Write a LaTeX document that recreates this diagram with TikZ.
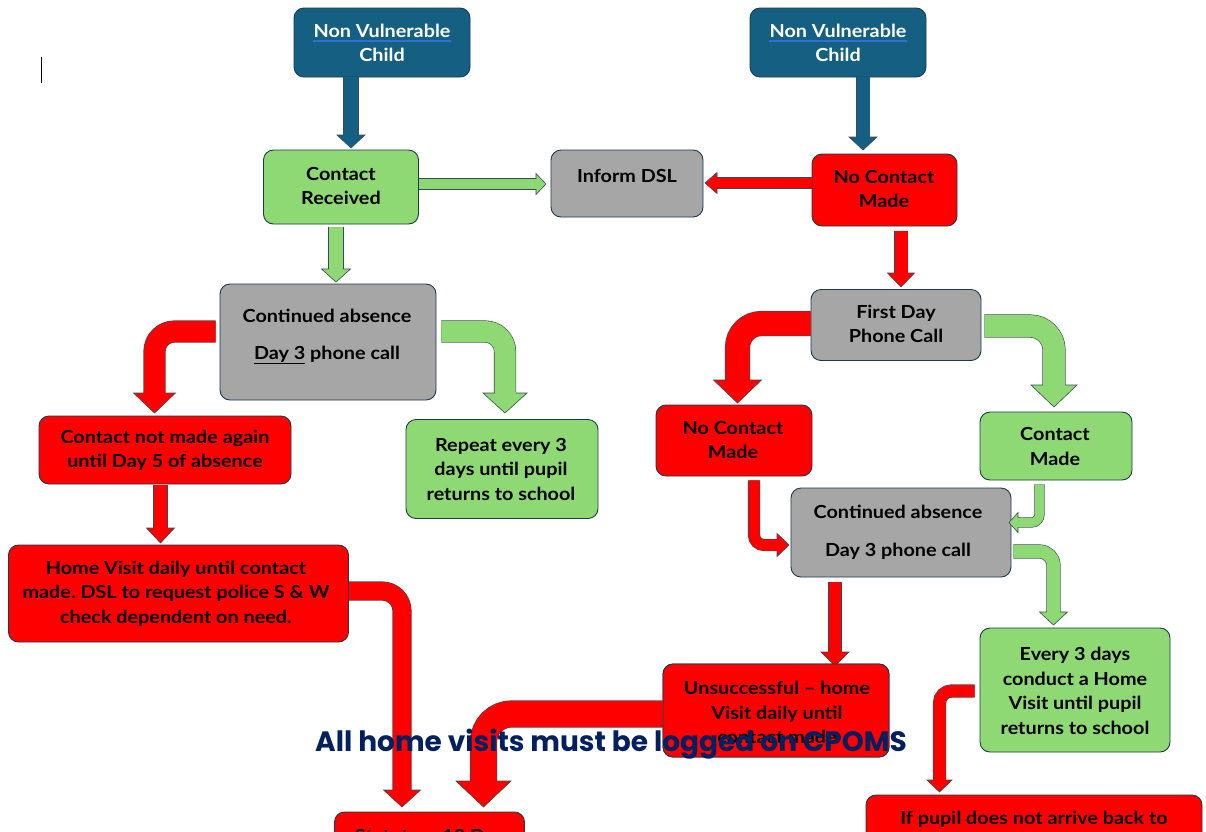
\documentclass[tikz,border=0pt]{standalone}
\usepackage{fontspec}
\setmainfont{Lato}[FakeStretch=1.1]
\newfontfamily\gothic{Poppins}
\usetikzlibrary{calc}
\frenchspacing
\definecolor{nvblue}{HTML}{156082}
\definecolor{gfill}{HTML}{8ED973}
\definecolor{gyfill}{HTML}{A6A6A6}
\definecolor{rfill}{HTML}{FF0000}
\definecolor{bline}{HTML}{1B3A4B}
\definecolor{aline}{HTML}{3A4A55}
\definecolor{navy}{HTML}{002060}
\definecolor{ulblue}{HTML}{2F6FD6}
\tikzset{
 box/.style={draw=bline, line width=0.9pt, rounded corners=10pt, inner sep=0pt},
 txt/.style={font=\bfseries\fontsize{18}{24.5}\selectfont, align=center, inner sep=0pt, text=black},
 wtxt/.style={txt, text=white},
}
\newcommand\band[4]{%
 \pgfmathsetmacro\bwo{#2+1.2}%
 \draw[aline, line width=\bwo pt, rounded corners=#4pt] #3;
 \draw[#1, line width=#2pt, rounded corners=#4pt] #3;}
\newcommand\headD[5]{%
 \filldraw[fill=#1, draw=aline, line width=0.6pt] (#2) -- ++(-#3/2,-#4) -- ++(#3,0) -- cycle;
 \fill[#1] ($(#2)+(-#5/2,-#4-1)$) rectangle ($(#2)+(#5/2,-#4+1)$);}
\newcommand\headR[5]{%
 \filldraw[fill=#1, draw=aline, line width=0.6pt] (#2) -- ++(-#4,-#3/2) -- ++(0,#3) -- cycle;
 \fill[#1] ($(#2)+(-#4-1,-#5/2)$) rectangle ($(#2)+(-#4+1,#5/2)$);}
\newcommand\headL[5]{%
 \filldraw[fill=#1, draw=aline, line width=0.6pt] (#2) -- ++(#4,-#3/2) -- ++(0,#3) -- cycle;
 \fill[#1] ($(#2)+(#4-1,-#5/2)$) rectangle ($(#2)+(#4+1,#5/2)$);}
\begin{document}
\begin{tikzpicture}[x=1pt,y=-1pt]
\clip (0,0) rectangle (1206,831);
\fill[white] (0,0) rectangle (1206,831);
% boxes
\node[box, fill=nvblue, minimum width=176pt, minimum height=69pt] (nv1) at (382,42.5) {};
\node[box, fill=nvblue, minimum width=176pt, minimum height=69pt] (nv2) at (838,42.5) {};
\node[box, fill=gfill, minimum width=155pt, minimum height=74pt] (cr) at (341,187) {};
\node[box, fill=gyfill, minimum width=152pt, minimum height=67pt] (dsl) at (627,183.5) {};
\node[box, fill=rfill, minimum width=145pt, minimum height=72pt] (ncm1) at (884.5,190) {};
\node[box, fill=gyfill, minimum width=216pt, minimum height=116pt] (ca1) at (328,342) {};
\node[box, fill=gyfill, minimum width=170pt, minimum height=71pt] (fd) at (896,325) {};
\node[box, fill=rfill, minimum width=252pt, minimum height=68pt] (cnm) at (165,450) {};
\node[box, fill=gfill, minimum width=192pt, minimum height=99pt] (rep) at (502,469) {};
\node[box, fill=rfill, minimum width=156pt, minimum height=71pt] (ncm2) at (734,440.5) {};
\node[box, fill=gfill, minimum width=152pt, minimum height=68pt] (cm) at (1056,446) {};
\node[box, fill=gyfill, minimum width=220pt, minimum height=89pt] (ca2) at (901,532.5) {};
\node[box, fill=rfill, minimum width=340pt, minimum height=97pt] (hv) at (178.5,593.5) {};
\node[box, fill=gfill, minimum width=190pt, minimum height=124pt] (ev3) at (1075,690) {};
\node[box, fill=rfill, minimum width=190pt, minimum height=76pt] (stat) at (429.5,850) {};
\node[box, fill=rfill, minimum width=336pt, minimum height=90pt] (ifp) at (1034,840) {};
% arrows
\band{nvblue}{14}{(351,0 |- nv1.south) -- (351,135)}{0}
\headD{nvblue}{351,148}{28}{13}{14}
\band{nvblue}{13}{(863,0 |- nv2.south) -- (863,137)}{0}
\headD{nvblue}{863,150}{28}{13}{13}
\band{gfill}{10}{(cr.east |- 0,184) -- (536,184)}{0}
\headR{gfill}{546,184}{21}{10}{10}
\band{rfill}{10}{(ncm1.west |- 0,183) -- (717,183)}{0}
\headL{rfill}{705,183}{21}{12}{10}
\band{gfill}{14}{($(336,0 |- cr.south)+(0,3)$) -- (336,269)}{0}
\headD{gfill}{336,282}{29}{13}{14}
\band{rfill}{13}{($(901,0 |- ncm1.south)+(0,5)$) -- (901,273)}{0}
\headD{rfill}{901,287}{27}{14}{13}
\band{rfill}{21}{($(ca1.west |- 0,331.5)+(-4,0)$) -- (154.5,331.5) -- (154.5,393)}{20}
\headD{rfill}{154.5,413}{42}{20}{21}
\band{gfill}{21}{($(ca1.east |- 0,331.5)+(5,0)$) -- (505,331.5) -- (505,393)}{20}
\headD{gfill}{505,413}{44}{20}{21}
\band{rfill}{13}{($(160.5,0 |- cnm.south)+(0,1)$) -- (160.5,528)}{0}
\headD{rfill}{160.5,543}{28}{15}{13}
\band{rfill}{18}{(hv.east |- 0,591) -- (402,591) -- (402,790)}{20}
\headD{rfill}{402,807}{37}{17}{18}
\band{rfill}{24}{(fd.west |- 0,323.5) -- (737.5,323.5) -- (737.5,380)}{24}
\headD{rfill}{737.5,403}{48}{23}{24}
\band{gfill}{22}{($(fd.east |- 0,326)+(3,0)$) -- (1054,326) -- (1054,385)}{24}
\headD{gfill}{1054,407}{46}{22}{22}
\band{rfill}{11}{($(754,0 |- ncm2.south)+(0,4)$) -- (754,545) -- (777,545)}{10}
\headR{rfill}{789,545}{23}{12}{11}
\band{gfill}{9}{($(1039.5,0 |- cm.south)+(0,4)$) -- (1039.5,522.5) -- (1018,522.5)}{8}
\headL{gfill}{1009,522.5}{20}{9}{9}
\band{gfill}{13}{($(ca2.east |- 0,551.5)+(2,0)$) -- (1053.5,551.5) -- (1053.5,612)}{14}
\headD{gfill}{1053.5,625}{28}{13}{13}
\band{rfill}{12}{($(835,0 |- ca2.south)+(0,5)$) -- (835,652)}{0}
\headD{rfill}{835,666}{28}{14}{12}
\band{rfill}{12}{($(ev3.west |- 0,691)+(-5,0)$) -- (939.5,691) -- (939.5,780)}{12}
\headD{rfill}{939.5,792}{25}{12}{12}
% unsuccessful box (on top of its own arrow)
\node[box, fill=rfill, minimum width=226pt, minimum height=93pt] (uns) at (776,710.5) {};
\band{rfill}{26}{(uns.west |- 0,714) -- (483.5,714) -- (483.5,781)}{28}
\headD{rfill}{483.5,807}{55}{26}{26}
\node[box, fill=rfill, minimum width=226pt, minimum height=93pt] at (776,710.5) {};
% texts
\node[wtxt] (nv1a) at (382,31) {Non Vulnerable};
\node[wtxt] (nv1b) at (382,55) {Child};
\draw[ulblue, line width=1.3pt] ($(nv1a.base west)+(0,3.5)$) -- ($(nv1a.base east)+(0,3.5)$);
\node[wtxt] (nv2a) at (838,31) {Non Vulnerable};
\node[wtxt] (nv2b) at (838,55) {Child};
\draw[ulblue, line width=1.3pt] ($(nv2a.base west)+(0,3.5)$) -- ($(nv2a.base east)+(0,3.5)$);
\node[txt] at (341,186) {Contact\\Received};
\node[txt] at (627,176) {Inform DSL};
\node[txt] at (884,189) {No Contact\\Made};
\node[txt] at (327,316) {Continued absence};
\node[txt] at (327,355) {\underline{Day 3} phone call};
\node[txt] at (896,324) {First Day\\Phone Call};
\node[txt] at (165,450.5) {Contact not made again\\until Day 5 of absence};
\node[txt] at (501,469) {Repeat every 3\\days until pupil\\returns to school};
\node[txt] at (733,440) {No Contact\\Made};
\node[txt] at (1055,446.5) {Contact\\Made};
\node[txt] at (898,512) {Continued absence};
\node[txt] at (898,551) {Day 3 phone call};
\node[txt] at (176,593.5) {Home Visit daily until contact\\made. DSL to request police S \& W\\check dependent on need.};
\node[txt] at (777,712.5) {Unsuccessful -- home\\Visit daily until\\contact made};
\node[txt] at (1075,691) {Every 3 days\\conduct a Home\\Visit until pupil\\returns to school};
\node[txt] at (1034,819) {If pupil does not arrive back to};
\node[txt] at (430,837) {Statutory 10 Day};
% cursor
\draw[black, line width=1pt] (41,57) -- (41,83);
% note
\node[font=\gothic\bfseries\fontsize{28}{30}\selectfont, text=navy, inner sep=0pt] (note) at (611,744) {All home visits must be logged on CPOMS};
\end{tikzpicture}
\end{document}
